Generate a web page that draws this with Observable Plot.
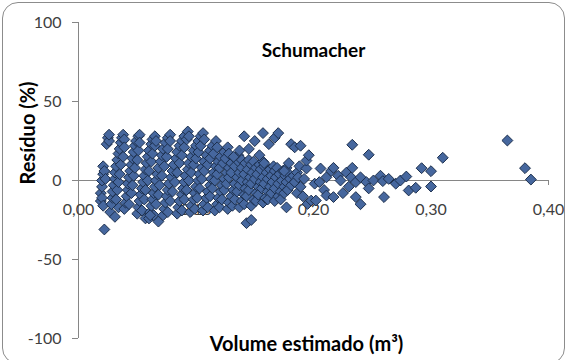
<!DOCTYPE html>
<html><head><meta charset="utf-8">
<script src="https://cdn.jsdelivr.net/npm/d3@7"></script>
<script src="https://cdn.jsdelivr.net/npm/@observablehq/plot@0.6"></script>
<style>
body{margin:0;background:#fff;}
#wrap{position:relative;width:567px;height:360px;overflow:hidden;}
#border{position:absolute;left:2px;top:2px;width:561px;height:360px;border:1px solid #8c8c8c;border-radius:16px;pointer-events:none;}
</style></head><body><div id="wrap"><div id="border"></div></div>
<script>
const titleText = "Schumacher";
const xLabel = "Volume estimado (m³)";
const yLabel = "Resíduo (%)";
const xTicks = [0, 0.1, 0.2, 0.3, 0.4];
const xTickLabels = ["0,00", "0,10", "0,20", "0,30", "0,40"];
const yTicks = [-100, -50, 0, 50, 100];
const yTickLabels = ["-100", "-50", "0", "50", "100"];

// [volume estimado (m³), resíduo (%)]
const stripe1 = [[0.019,-13],[0.019,-8],[0.020,-11],[0.020,-4],[0.020,0],[0.021,-16],[0.021,4],[0.021,9],[0.022,6],[0.022,-31],[0.023,1],[0.024,23],[0.025,27],[0.026,25],[0.026,29],[0.027,-20],[0.031,-23],[0.034,-17]];
const stripe2 = [[0.028,-15],[0.029,-11],[0.029,-7],[0.030,-3],[0.031,1],[0.031,5],[0.032,9],[0.033,13],[0.034,17],[0.035,20],[0.036,24],[0.037,27],[0.038,29],[0.039,26],[0.032,-12],[0.033,-6],[0.034,-1],[0.035,4],[0.036,10],[0.038,15],[0.039,21]];
const stripe3 = [[0.039,-18],[0.040,-14],[0.041,-10],[0.042,-6],[0.042,-2],[0.043,2],[0.044,6],[0.045,10],[0.046,14],[0.047,18],[0.048,22],[0.049,25],[0.051,28],[0.052,29],[0.043,-15],[0.045,-8],[0.046,-3],[0.047,3],[0.048,8],[0.050,13],[0.051,19],[0.052,24]];
const stripe4 = [[0.050,-21],[0.051,-17],[0.052,-13],[0.053,-9],[0.054,-5],[0.055,-1],[0.056,3],[0.057,7],[0.058,11],[0.059,15],[0.060,19],[0.062,23],[0.063,26],[0.065,28],[0.054,-19],[0.056,-12],[0.057,-6],[0.059,0],[0.060,6],[0.062,12],[0.063,17],[0.065,22],[0.066,25],[0.057,-24]];
const stripe5 = [[0.060,-24],[0.061,-20],[0.062,-16],[0.063,-12],[0.064,-8],[0.065,-4],[0.066,0],[0.067,4],[0.068,8],[0.070,12],[0.071,16],[0.072,20],[0.074,24],[0.076,27],[0.078,29],[0.064,-22],[0.066,-15],[0.068,-9],[0.069,-3],[0.071,3],[0.073,9],[0.075,15],[0.076,20],[0.078,25],[0.068,-26],[0.061,-22]];
const stripe6 = [[0.072,-22],[0.073,-18],[0.074,-14],[0.075,-10],[0.076,-6],[0.077,-2],[0.079,2],[0.080,6],[0.081,10],[0.083,14],[0.084,18],[0.086,22],[0.088,25],[0.090,28],[0.093,31],[0.076,-20],[0.078,-13],[0.080,-7],[0.082,-1],[0.084,5],[0.086,11],[0.088,16],[0.090,21],[0.092,26],[0.094,28]];
const stripe7 = [[0.084,-21],[0.085,-17],[0.086,-13],[0.088,-9],[0.089,-5],[0.090,-1],[0.091,3],[0.093,7],[0.094,11],[0.096,15],[0.098,19],[0.100,22],[0.102,25],[0.104,28],[0.106,30],[0.088,-19],[0.090,-12],[0.092,-6],[0.094,0],[0.096,5],[0.098,10],[0.100,14],[0.102,18],[0.104,22],[0.107,26]];
const stripe8 = [[0.095,-20],[0.096,-16],[0.098,-12],[0.099,-8],[0.100,-4],[0.102,0],[0.103,4],[0.105,8],[0.107,12],[0.109,16],[0.112,19],[0.114,22],[0.117,25],[0.099,-18],[0.101,-11],[0.103,-5],[0.105,1],[0.107,6],[0.110,10],[0.112,14],[0.115,17],[0.118,21]];
const stripe9 = [[0.106,-19],[0.107,-15],[0.109,-11],[0.110,-7],[0.112,-3],[0.113,1],[0.115,5],[0.117,9],[0.119,12],[0.121,15],[0.124,18],[0.127,21],[0.110,-17],[0.112,-10],[0.114,-5],[0.116,0],[0.118,4],[0.120,8],[0.123,11],[0.125,14],[0.128,17]];
const stripe10 = [[0.116,-19],[0.118,-15],[0.119,-11],[0.121,-7],[0.122,-3],[0.124,1],[0.126,5],[0.128,8],[0.130,11],[0.133,14],[0.136,16],[0.120,-17],[0.122,-12],[0.124,-6],[0.126,-2],[0.128,2],[0.130,5],[0.133,9],[0.136,12],[0.139,13]];
const stripe11 = [[0.127,-18],[0.128,-14],[0.130,-10],[0.132,-6],[0.133,-2],[0.135,2],[0.137,5],[0.139,8],[0.142,11],[0.145,13],[0.131,-16],[0.133,-12],[0.135,-7],[0.137,-3],[0.139,0],[0.141,4],[0.144,7],[0.147,10],[0.149,12]];
const stripe12 = [[0.137,-17],[0.139,-13],[0.141,-9],[0.142,-5],[0.144,-1],[0.146,2],[0.148,5],[0.151,8],[0.154,10],[0.157,12],[0.141,-15],[0.143,-10],[0.145,-6],[0.147,-2],[0.150,1],[0.152,4],[0.155,7],[0.158,9]];
const stripe13 = [[0.147,-16],[0.149,-12],[0.151,-8],[0.153,-4],[0.155,-1],[0.157,2],[0.160,5],[0.163,7],[0.166,9],[0.151,-13],[0.153,-9],[0.156,-5],[0.158,-2],[0.161,1],[0.164,3],[0.167,6],[0.169,8]];
const stripe14 = [[0.157,-14],[0.159,-11],[0.161,-7],[0.163,-4],[0.165,-1],[0.168,2],[0.171,4],[0.174,6],[0.177,8],[0.161,-12],[0.164,-8],[0.167,-5],[0.170,-2],[0.173,0],[0.176,3],[0.178,5]];
const stripe15 = [[0.167,-13],[0.170,-10],[0.172,-7],[0.175,-4],[0.177,-1],[0.180,1],[0.183,3],[0.186,5],[0.172,-12],[0.175,-8],[0.178,-6],[0.181,-3],[0.184,-1],[0.187,2],[0.186,-8],[0.189,-4],[0.191,-10],[0.188,9]];
const midOutliers = [[0.132,15],[0.137,19],[0.141,28],[0.145,20],[0.150,25],[0.154,16],[0.157,30],[0.158,11],[0.162,23],[0.167,27],[0.170,30],[0.175,6],[0.179,11],[0.181,23],[0.184,21],[0.143,-27],[0.147,-25],[0.177,-17]];
const rightScatter = [[0.189,22],[0.192,1],[0.194,7.6],[0.194,12.6],[0.196,16],[0.195,-14.8],[0.198,-12.7],[0.201,-2],[0.202,-12.7],[0.205,-1],[0.206,7.6],[0.209,-6],[0.211,2],[0.211,-9.5],[0.215,6],[0.217,8],[0.217,-10.5],[0.221,3],[0.223,0],[0.225,-8],[0.228,5],[0.230,-4],[0.232,2],[0.233,22.6],[0.233,8],[0.236,-1],[0.236,-10.5],[0.240,2],[0.240,-15],[0.245,-1],[0.247,16.3],[0.247,-5],[0.251,0],[0.257,3],[0.259,-0.4],[0.260,-10.5],[0.264,1],[0.270,-2],[0.274,0],[0.279,2.5],[0.281,-6.3],[0.287,-4.6],[0.292,7.8],[0.300,5.9],[0.300,-3.8],[0.310,14.4],[0.365,25.3],[0.380,7.8],[0.385,0.6]];

const points = [].concat(stripe1, stripe2, stripe3, stripe4, stripe5, stripe6, stripe7, stripe8,
  stripe9, stripe10, stripe11, stripe12, stripe13, stripe14, stripe15, midOutliers, rightScatter)
  .map(([v, r]) => ({volume: v, residuo: r}));

const axisColor = "#868686";
const labelColor = "#404040";
const font = "Lato, 'Open Sans', sans-serif";

const chart = Plot.plot({
  width: 567, height: 360,
  marginLeft: 78, marginRight: 19, marginTop: 22, marginBottom: 22,
  x: {domain: [0, 0.4], axis: null},
  y: {domain: [-100, 100], axis: null},
  style: {fontFamily: font, background: "transparent", overflow: "visible"},
  marks: [
    Plot.ruleX([0], {stroke: axisColor, strokeWidth: 1}),
    Plot.axisY({ticks: yTicks, tickSize: 6, tickPadding: 11, tickFormat: d => yTickLabels[yTicks.indexOf(d)],
      label: null, fontSize: 16, color: labelColor, stroke: axisColor}),
    Plot.ruleY([0], {stroke: axisColor, strokeWidth: 1}),
    Plot.ruleX(xTicks, {x: d => d, y1: 0, y2: 0, insetBottom: -5, stroke: axisColor}),
    Plot.text(xTicks, {x: d => d, y: 0, text: (d, i) => xTickLabels[i], dy: 29, fontSize: 16, fill: labelColor}),
    Plot.dot(points, {x: "volume", y: "residuo", symbol: "diamond2", r: 4.9,
      fill: "#46679e", stroke: "#1c2f4d", strokeWidth: 1}),
    Plot.text([titleText], {frameAnchor: "top", dy: 21, fontSize: 19, fontWeight: "bold", fill: "#000"}),
    Plot.text([xLabel], {frameAnchor: "bottom", dy: 12, dx: -7, fontSize: 20, fontWeight: "bold", fill: "#000"}),
    Plot.text([yLabel], {frameAnchor: "left", dx: -50, dy: 4, rotate: -90, fontSize: 20, fontWeight: "bold", fill: "#000"})
  ]
});
document.getElementById("wrap").prepend(chart);
</script>
</body></html>
